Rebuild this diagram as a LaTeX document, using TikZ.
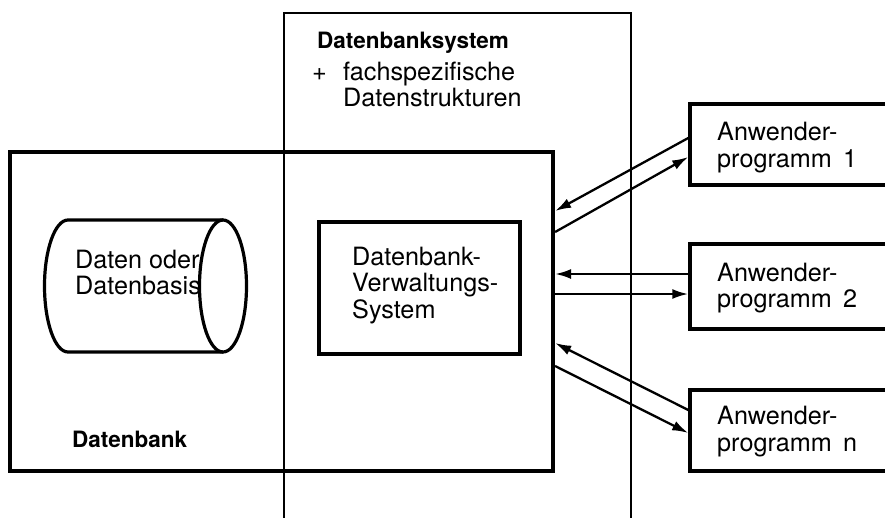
\documentclass[tikz,border=0pt]{standalone}
\usepackage{fontspec}
\setmainfont{TeX Gyre Heros}
\usetikzlibrary{arrows.meta}
\begin{document}
\begin{tikzpicture}[x=1pt,y=-1pt,
  thinbox/.style={draw, line width=1.3pt, inner sep=0pt},
  heavybox/.style={draw, line width=4.2pt, inner sep=0pt},
  midbox/.style={draw, line width=3.5pt, inner sep=0pt},
  txt/.style={font=\fontsize{25.2}{26.5}\selectfont, inner sep=0pt, anchor=base west},
  btxt/.style={font=\fontsize{22.5}{27}\selectfont\bfseries, inner sep=0pt, anchor=base west},
  arr/.style={line width=2.3pt, -{Latex[length=16pt,width=10pt]}},
  cyl/.style={line width=3.2pt}
]
\useasboundingbox (0,0) rectangle (885,517);
% Datenbanksystem (thin, open at bottom)
\node[thinbox, minimum width=347pt, minimum height=547pt] (dbs) at (457.5,286.5) {};
% Datenbank
\node[heavybox, minimum width=543pt, minimum height=319pt] (db) at (281.5,311.5) {};
% Datenbank-Verwaltungs-System
\node[midbox, minimum width=201pt, minimum height=132pt] (dvs) at (419.5,288) {};
% Anwenderprogramme
\node[midbox, minimum width=310pt, minimum height=81pt] (ap1) at (845,144.5) {};
\node[midbox, minimum width=310pt, minimum height=85pt] (ap2) at (845,286.5) {};
\node[midbox, minimum width=310pt, minimum height=81pt] (apn) at (845,430.5) {};
% cylinder
\draw[cyl] (223,220) -- (68,220) arc[start angle=90, end angle=270, x radius=23.5pt, y radius=66pt] -- (223,352);
\draw[cyl] (223,286) ellipse [x radius=23.5pt, y radius=66pt];
% texts
\node[btxt] (tdbs) at (317,48) {Datenbanksystem};
\node[txt] (tplus) at (312,80) {\vtop{\hbox{\makebox[31pt][l]{+}fachspezifische}\hbox{\hspace{31pt}Datenstrukturen}}};
\node[txt] (tcyl) at (75,268) {\vtop{\hbox{Daten oder}\hbox{Datenbasis}}};
\node[txt] (tdvs) at (352,265) {\vtop{\hbox{Datenbank-}\hbox{Verwaltungs-}\hbox{System}}};
\node[btxt] (tdb) at (72,447) {Datenbank};
\node[txt] (tap1) at (717,140.5) {\vtop{\hbox{Anwender-}\hbox{programm\hspace{0.45em}1}}};
\node[txt] (tap2) at (717,281) {\vtop{\hbox{Anwender-}\hbox{programm\hspace{0.45em}2}}};
\node[txt] (tapn) at (717,424.5) {\vtop{\hbox{Anwender-}\hbox{programm\hspace{0.45em}n}}};
% connectors
\draw[arr] (ap1.west |- 0,138) -- (db.east |- 0,211);
\draw[arr] (db.east |- 0,232) -- (ap1.west |- 0,157);
\draw[arr] (ap2.west |- 0,274) -- (db.east |- 0,274);
\draw[arr] (db.east |- 0,294) -- (ap2.west |- 0,294);
\draw[arr] (apn.west |- 0,410) -- (db.east |- 0,343);
\draw[arr] (db.east |- 0,366) -- (apn.west |- 0,433);
\end{tikzpicture}
\end{document}
